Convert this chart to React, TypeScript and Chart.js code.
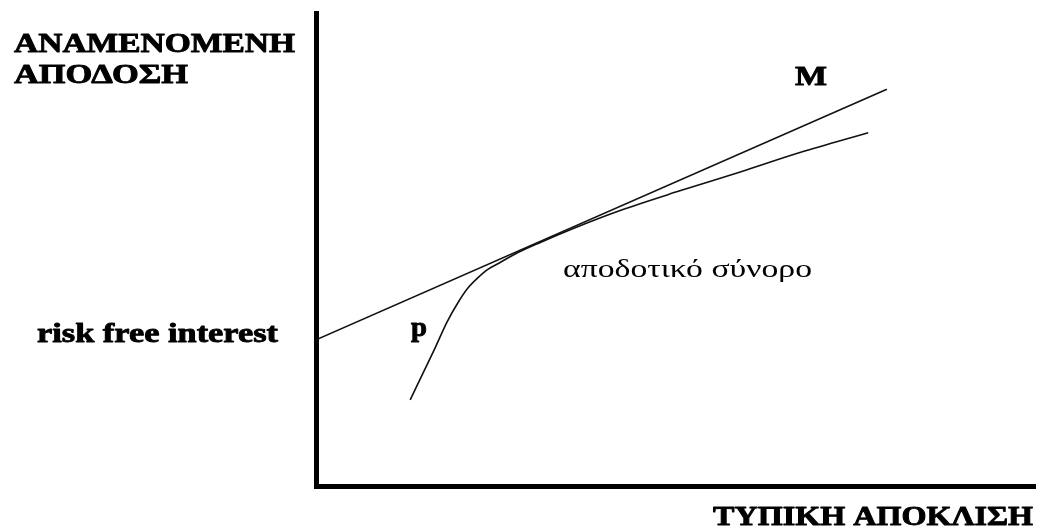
import React, { useEffect, useRef } from "react";
import { Chart, registerables } from "chart.js";

Chart.register(...registerables);

// Capital market line: from the risk-free rate on the vertical axis through the tangency point.
const cmlX = [0, 79.4];
const cmlY = [30.9, 83.9];

// Efficient frontier (standard deviation vs expected return)
const frontierX = [13.1, 14.9, 16.6, 18.2, 19.8, 21.1, 22.5, 23.9, 25.6, 27.7, 31.2, 35.7, 42.3, 50.6, 59.0, 67.3, 76.8];
const frontierY = [18.2, 23.9, 29.3, 34.6, 38.9, 41.8, 44.0, 45.8, 47.25, 49.05, 51.5, 54.4, 58.25, 62.4, 66.4, 70.5, 74.7];

const yAxisTitle = ["ΑΝΑΜΕΝΟΜΕΝΗ", "ΑΠΟΔΟΣΗ"];
const xAxisTitle = "ΤΥΠΙΚΗ ΑΠΟΚΛΙΣΗ";
const riskFreeLabel = "risk free interest";
const frontierLabel = "αποδοτικό σύνορο";
const portfolioLabel = "p";
const marketLabel = "M";

const toPoints = (xs: number[], ys: number[]) => xs.map((x, i) => ({ x, y: ys[i] }));

// Draws text widened to span a given width, keeping its height; heavy text gets an extra outline.
function fillSpan(ctx: CanvasRenderingContext2D, text: string, x: number, baseline: number, width: number, heavy = false) {
  const w = ctx.measureText(text).width;
  ctx.save();
  ctx.translate(x, baseline);
  ctx.scale(width / w, 1);
  ctx.fillText(text, 0, 0);
  if (heavy) {
    ctx.lineWidth = 0.9;
    ctx.strokeStyle = "#000";
    ctx.lineJoin = "round";
    ctx.strokeText(text, 0, 0);
  }
  ctx.restore();
}

const labelsPlugin = {
  id: "chartLabels",
  afterDraw(chart: any) {
    const ctx = chart.ctx as CanvasRenderingContext2D;
    ctx.save();
    ctx.fillStyle = "#000";
    ctx.textBaseline = "alphabetic";
    ctx.textAlign = "left";
    ctx.font = `bold 28px "Liberation Serif", "Times New Roman", serif`;
    fillSpan(ctx, yAxisTitle[0], 14, 52, 281, true);
    fillSpan(ctx, yAxisTitle[1], 14, 83, 174, true);
    fillSpan(ctx, riskFreeLabel, 37, 342, 241, true);
    fillSpan(ctx, xAxisTitle, 713, 525, 320, true);
    fillSpan(ctx, portfolioLabel, 411, 336, 16, true);
    fillSpan(ctx, marketLabel, 795, 85, 32, true);
    ctx.font = `25px "Liberation Serif", "Times New Roman", serif`;
    fillSpan(ctx, frontierLabel, 563, 277, 249);
    ctx.restore();
  },
};

export default function App() {
  const canvasRef = useRef<HTMLCanvasElement | null>(null);

  useEffect(() => {
    if (!canvasRef.current) return;
    const chart = new Chart(canvasRef.current, {
      type: "scatter",
      data: {
        datasets: [
          {
            label: "CML",
            data: toPoints(cmlX, cmlY),
            showLine: true,
            borderColor: "#111",
            borderWidth: 1.6,
            pointRadius: 0,
            fill: false,
          },
          {
            label: "frontier",
            data: toPoints(frontierX, frontierY),
            showLine: true,
            borderColor: "#111",
            borderWidth: 1.6,
            pointRadius: 0,
            cubicInterpolationMode: "monotone",
            fill: false,
          },
        ],
      },
      options: {
        animation: false,
        responsive: false,
        maintainAspectRatio: false,
        layout: { padding: { left: 316, top: 13, right: 10, bottom: 44 } },
        plugins: { legend: { display: false }, tooltip: { enabled: false } },
        scales: {
          x: {
            type: "linear",
            min: 0,
            max: 100,
            grid: { display: false, drawTicks: false },
            ticks: { display: false },
            border: { display: true, color: "#000", width: 5 },
          },
          y: {
            type: "linear",
            min: 0,
            max: 100,
            grid: { display: false, drawTicks: false },
            ticks: { display: false },
            border: { display: true, color: "#000", width: 5 },
          },
        },
      },
      plugins: [labelsPlugin],
    });
    return () => chart.destroy();
  }, []);

  return (
    <div style={{ position: "absolute", left: 0, top: 0, width: 1045, height: 530, background: "#fff" }}>
      <canvas ref={canvasRef} width={1045} height={530} style={{ display: "block" }} />
    </div>
  );
}
